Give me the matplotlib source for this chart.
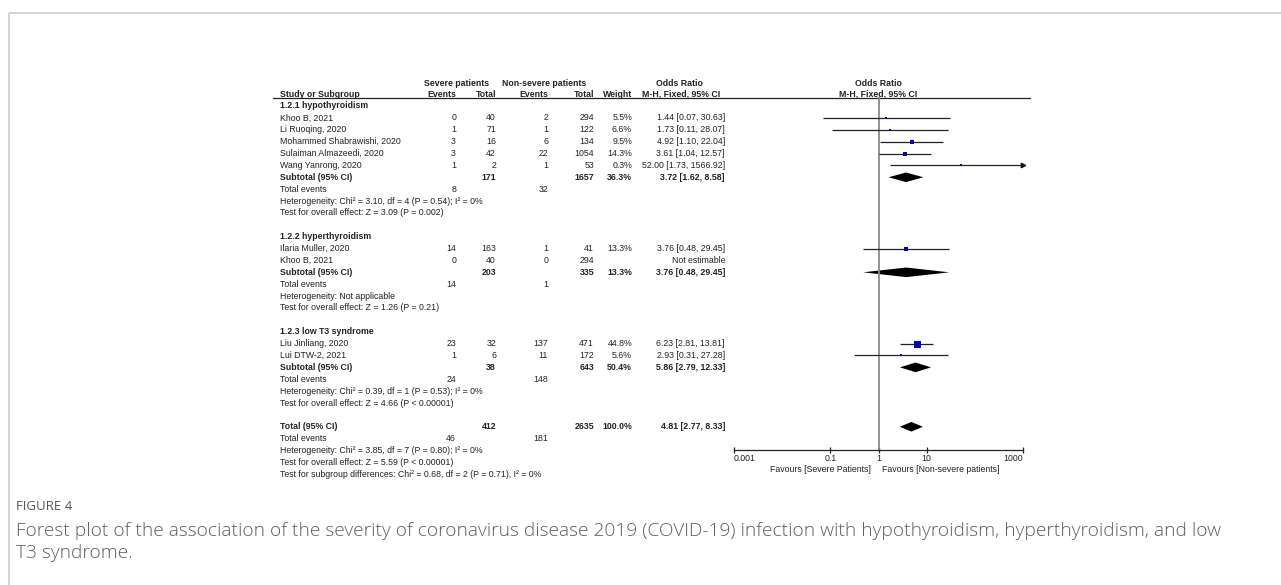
import matplotlib
matplotlib.use("Agg")
import matplotlib.pyplot as plt
import numpy as np

plt.rcParams['font.family'] = ['Liberation Sans', 'DejaVu Sans']

# ---- data -------------------------------------------------------------
subgroups = ["1.2.1 hypothyroidism", "1.2.2 hyperthyroidism", "1.2.3 low T3 syndrome"]

studies = [
    ["Khoo B, 2021", "Li Ruoqing, 2020", "Mohammed Shabrawishi, 2020",
     "Sulaiman Almazeedi, 2020", "Wang Yanrong, 2020"],
    ["Ilaria Muller, 2020", "Khoo B, 2021"],
    ["Liu Jinliang, 2020", "Lui DTW-2, 2021"],
]
severe_events = [[0, 1, 3, 3, 1], [14, 0], [23, 1]]
severe_total = [[40, 71, 16, 42, 2], [163, 40], [32, 6]]
nonsevere_events = [[2, 1, 6, 22, 1], [1, 0], [137, 11]]
nonsevere_total = [[294, 122, 134, 1054, 53], [41, 294], [471, 172]]
weights = [[5.5, 6.6, 9.5, 14.3, 0.3], [13.3, None], [44.8, 5.6]]
odds = [[1.44, 1.73, 4.92, 3.61, 52.00], [3.76, None], [6.23, 2.93]]
ci_low = [[0.07, 0.11, 1.10, 1.04, 1.73], [0.48, None], [2.81, 0.31]]
ci_high = [[30.63, 28.07, 22.04, 12.57, 1566.92], [29.45, None], [13.81, 27.28]]

sub_severe_total = [171, 203, 38]
sub_nonsevere_total = [1657, 335, 643]
sub_weight = [36.3, 13.3, 50.4]
sub_or = [3.72, 3.76, 5.86]
sub_low = [1.62, 0.48, 2.79]
sub_high = [8.58, 29.45, 12.33]
sub_severe_events = [8, 14, 24]
sub_nonsevere_events = [32, 1, 148]
sub_heterogeneity = [
    "Heterogeneity: Chi\u00b2 = 3.10, df = 4 (P = 0.54); I\u00b2 = 0%",
    "Heterogeneity: Not applicable",
    "Heterogeneity: Chi\u00b2 = 0.39, df = 1 (P = 0.53); I\u00b2 = 0%",
]
sub_effect = [
    "Test for overall effect: Z = 3.09 (P = 0.002)",
    "Test for overall effect: Z = 1.26 (P = 0.21)",
    "Test for overall effect: Z = 4.66 (P < 0.00001)",
]

total_severe = 412
total_nonsevere = 2635
total_weight = 100.0
total_or, total_low, total_high = 4.81, 2.77, 8.33
total_severe_events, total_nonsevere_events = 46, 181
total_notes = [
    "Heterogeneity: Chi\u00b2 = 3.85, df = 7 (P = 0.80); I\u00b2 = 0%",
    "Test for overall effect: Z = 5.59 (P < 0.00001)",
    "Test for subgroup differences: Chi\u00b2 = 0.68, df = 2 (P = 0.71), I\u00b2 = 0%",
]

axis_ticks = [0.001, 0.1, 1, 10, 1000]
axis_ticklabels = ["0.001", "0.1", "1", "10", "1000"]
favours_left = "Favours [Severe Patients]"
favours_right = "Favours [Non-severe patients]"

caption_label = "FIGURE 4"
caption_lines = [
    "Forest plot of the association of the severity of coronavirus disease 2019 (COVID-19) "
    "infection with hypothyroidism, hyperthyroidism, and low",
    "T3 syndrome.",
]

# ---- layout (pixel units) --------------------------------------------
W, H = 1281, 585
ROW0, DY = 106.0, 11.88
FS = 6.3
TXT = "#222222"
SQ = "#0000c0"

def row_y(i):
    return ROW0 + i * DY

X_STUDY = 280
X_SEV_EV, X_SEV_TOT = 456, 496
X_NON_EV, X_NON_TOT = 548, 594
X_WEIGHT, X_OR = 632, 725
X_OR_HEAD = 681
FX0, FX1 = 734, 1023           # forest axis pixel extent (0.001 .. 1000)
AXIS_Y = 450
HEAD_LINE_Y = 98

fig = plt.figure(figsize=(W / 100, H / 100), dpi=100)
tax = fig.add_axes([0, 0, 1, 1])
tax.set_xlim(0, W)
tax.set_ylim(H, 0)
tax.axis("off")

fax = fig.add_axes([FX0 / W, 1 - AXIS_Y / H, (FX1 - FX0) / W, (AXIS_Y - HEAD_LINE_Y) / H])
fax.set_xscale("log")
fax.set_xlim(axis_ticks[0], axis_ticks[-1])
fax.set_ylim(AXIS_Y, HEAD_LINE_Y)
fax.patch.set_alpha(0)
for s in ["top", "left", "right"]:
    fax.spines[s].set_visible(False)
fax.spines["bottom"].set_color("#222222")
fax.spines["bottom"].set_linewidth(0.9)
fax.set_yticks([])
fax.set_xticks(axis_ticks)
fax.set_xticklabels(axis_ticklabels)
fax.xaxis.set_minor_locator(matplotlib.ticker.NullLocator())
fax.tick_params(axis="x", direction="inout", length=5, width=0.9, color="#222222",
                labelsize=FS, labelcolor=TXT, pad=0.5)
labels = fax.get_xticklabels()
labels[0].set_horizontalalignment("left")
labels[-1].set_horizontalalignment("right")

def t(x, y, s, ha="left", bold=False, **kw):
    tax.text(x, y, s, ha=ha, va="center", fontsize=FS, color=TXT,
             fontweight="bold" if bold else "normal", **kw)

# figure frame
tax.plot([9, W], [13, 13], color="#cccccc", lw=1.2, solid_capstyle="butt")
tax.plot([9, 9], [13, H], color="#cccccc", lw=1.2, solid_capstyle="butt")

# headers
hy1, hy2 = row_y(-2) + 1, row_y(-1)
t((X_SEV_EV + X_SEV_TOT) / 2 - 19, hy1, "Severe patients", ha="center", bold=True)
t((X_NON_EV + X_NON_TOT) / 2 - 27, hy1, "Non-severe patients", ha="center", bold=True)
t(X_OR_HEAD - 2, hy1, "Odds Ratio", ha="center", bold=True)
t(878, hy1, "Odds Ratio", ha="center", bold=True)
t(X_STUDY, hy2, "Study or Subgroup", bold=True)
t(X_SEV_EV, hy2, "Events", ha="right", bold=True)
t(X_SEV_TOT, hy2, "Total", ha="right", bold=True)
t(X_NON_EV, hy2, "Events", ha="right", bold=True)
t(X_NON_TOT, hy2, "Total", ha="right", bold=True)
t(X_WEIGHT, hy2, "Weight", ha="right", bold=True)
t(X_OR_HEAD, hy2, "M-H, Fixed, 95% CI", ha="center", bold=True)
t(878, hy2, "M-H, Fixed, 95% CI", ha="center", bold=True)
tax.plot([273, 1030], [HEAD_LINE_Y, HEAD_LINE_Y], color="#222222", lw=0.9)

# null line
fax.plot([1, 1], [HEAD_LINE_Y, AXIS_Y], color="#8a8a8a", lw=1.3, clip_on=False)

def diamond(est, lo, hi, y, half=4.8):
    fax.fill([lo, est, hi, est], [y, y - half, y, y + half], color="black",
             lw=0, clip_on=False)

row = 0
for g in range(len(subgroups)):
    t(X_STUDY, row_y(row), subgroups[g], bold=True)
    row += 1
    for k, name in enumerate(studies[g]):
        y = row_y(row)
        t(X_STUDY, y, name)
        t(X_SEV_EV, y, str(severe_events[g][k]), ha="right")
        t(X_SEV_TOT, y, str(severe_total[g][k]), ha="right")
        t(X_NON_EV, y, str(nonsevere_events[g][k]), ha="right")
        t(X_NON_TOT, y, str(nonsevere_total[g][k]), ha="right")
        if odds[g][k] is None:
            t(X_OR, y, "Not estimable", ha="right")
        else:
            t(X_WEIGHT, y, f"{weights[g][k]:.1f}%", ha="right")
            t(X_OR, y, f"{odds[g][k]:.2f} [{ci_low[g][k]:.2f}, {ci_high[g][k]:.2f}]", ha="right")
            hi = min(ci_high[g][k], axis_ticks[-1])
            fax.plot([ci_low[g][k], hi], [y, y], color="#222222", lw=0.9,
                     solid_capstyle="butt", clip_on=False)
            if ci_high[g][k] > axis_ticks[-1]:
                fax.plot([hi], [y], marker=">", ms=3.2, color="#111111", clip_on=False)
            side_px = max(2.0, 7.0 * np.sqrt(weights[g][k] / 44.8))
            fax.plot([odds[g][k]], [y], marker="s", ms=side_px * 0.72, color=SQ,
                     mec=SQ, mew=0, clip_on=False, zorder=5)
        row += 1
    y = row_y(row)
    t(X_STUDY, y, "Subtotal (95% CI)", bold=True)
    t(X_SEV_TOT, y, str(sub_severe_total[g]), ha="right", bold=True)
    t(X_NON_TOT, y, str(sub_nonsevere_total[g]), ha="right", bold=True)
    t(X_WEIGHT, y, f"{sub_weight[g]:.1f}%", ha="right", bold=True)
    t(X_OR, y, f"{sub_or[g]:.2f} [{sub_low[g]:.2f}, {sub_high[g]:.2f}]", ha="right", bold=True)
    diamond(sub_or[g], sub_low[g], sub_high[g], y)
    row += 1
    y = row_y(row)
    t(X_STUDY, y, "Total events")
    t(X_SEV_EV, y, str(sub_severe_events[g]), ha="right")
    t(X_NON_EV, y, str(sub_nonsevere_events[g]), ha="right")
    row += 1
    t(X_STUDY, row_y(row), sub_heterogeneity[g])
    row += 1
    t(X_STUDY, row_y(row), sub_effect[g])
    row += 2

y = row_y(row)
t(X_STUDY, y, "Total (95% CI)", bold=True)
t(X_SEV_TOT, y, str(total_severe), ha="right", bold=True)
t(X_NON_TOT, y, str(total_nonsevere), ha="right", bold=True)
t(X_WEIGHT, y, f"{total_weight:.1f}%", ha="right", bold=True)
t(X_OR, y, f"{total_or:.2f} [{total_low:.2f}, {total_high:.2f}]", ha="right", bold=True)
diamond(total_or, total_low, total_high, y)
row += 1
y = row_y(row)
t(X_STUDY, y, "Total events")
t(X_SEV_EV, y, str(total_severe_events), ha="right")
t(X_NON_EV, y, str(total_nonsevere_events), ha="right")
row += 1
for note in total_notes:
    t(X_STUDY, row_y(row), note)
    row += 1

# favours labels
t(871, 469, favours_left, ha="right")
t(882, 469, favours_right, ha="left")

# caption
tax.text(16, 507, caption_label, ha="left", va="center", fontsize=9.5,
         color="#555555", family=["Open Sans", "DejaVu Sans"])
for i, line in enumerate(caption_lines):
    tax.text(16, 531 + i * 22, line, ha="left", va="center", fontsize=13.8,
             color="#5e5e5e", fontweight="light", family=["Open Sans", "DejaVu Sans"])

fig.savefig("out.png", dpi=100)
